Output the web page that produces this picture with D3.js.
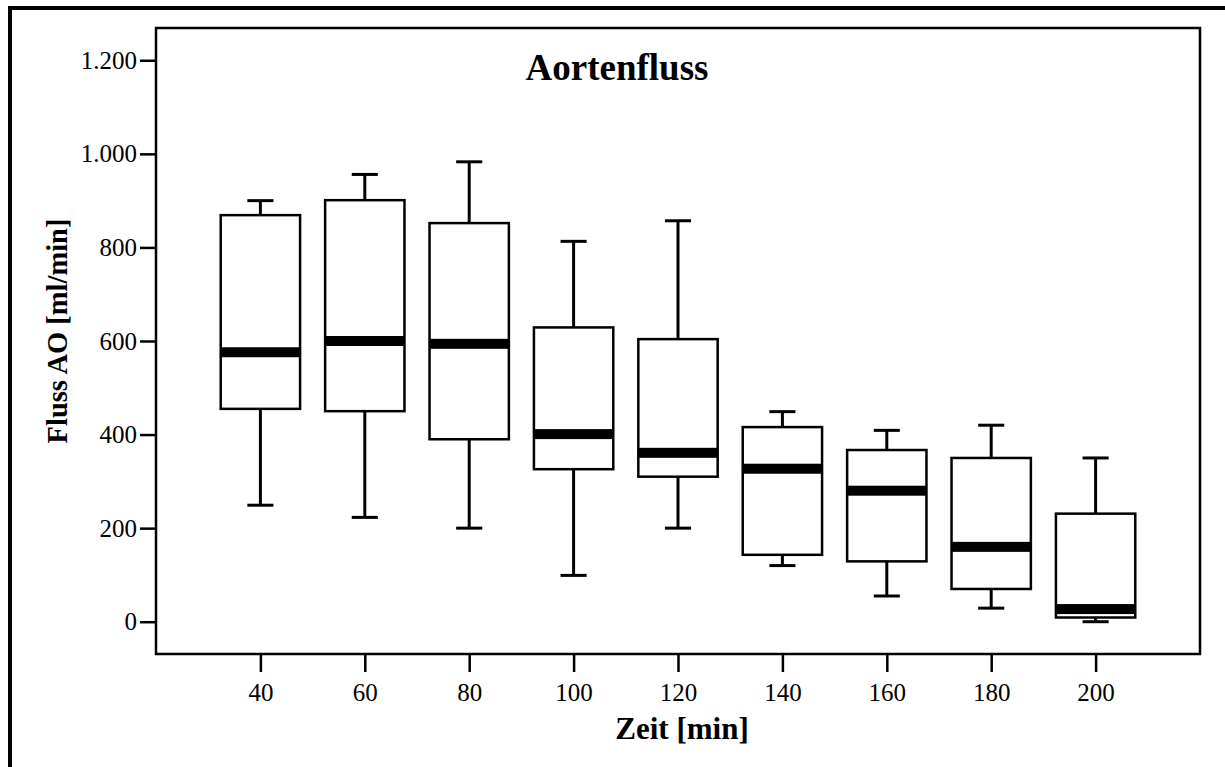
<!DOCTYPE html>
<html>
<head>
<meta charset="utf-8">
<script src="https://cdn.jsdelivr.net/npm/d3@7"></script>
<style>
  html, body { margin: 0; padding: 0; background: #fff; }
  svg { display: block; }
  text { font-family: "Liberation Serif", "Times New Roman", serif; fill: #000; }
</style>
</head>
<body>
<svg id="chart" width="1225" height="767"></svg>
<script>
// Aortenfluss per time point: box plot summaries (ml/min)
const times       = [40, 60, 80, 100, 120, 140, 160, 180, 200];
const whiskerHigh = [900, 956, 983, 813, 857, 449, 409, 420, 350];
const q3          = [869, 901, 852, 629, 604, 416, 367, 350, 231];
const medians     = [576, 600, 594, 401, 361, 327, 280, 160, 27];
const q1          = [455, 450, 390, 326, 310, 143, 129, 70, 9];
const whiskerLow  = [249, 223, 200, 99, 200, 120, 55, 29, 0];
const yTickValues = [0, 200, 400, 600, 800, 1000, 1200];

const title  = "Aortenfluss";
const xTitle = "Zeit [min]";
const yTitle = "Fluss AO [ml/min]";

const rows = times.map((t, i) => ({
  t, hi: whiskerHigh[i], q3: q3[i], med: medians[i], q1: q1[i], lo: whiskerLow[i]
}));

const svg = d3.select("#chart");
const frame = { left: 156, right: 1200, top: 28, bottom: 654 };

const x = d3.scaleLinear().domain([20, 220]).range([frame.left, frame.right]);
const y = d3.scaleLinear().domain([-69, 1269]).range([frame.bottom, frame.top]);

const step = x(60) - x(40);
const boxW = step * 0.76;
const capW = step * 0.25;
const medH = 10;

const de = d3.formatLocale({ decimal: ",", thousands: ".", grouping: [3], currency: ["", " €"] });
const fmt = de.format(",d");

// outer border (top and left visible)
svg.append("path")
  .attr("d", "M10,767 L10,8 L1225,8")
  .attr("fill", "none").attr("stroke", "#000").attr("stroke-width", 4);

// axes
const yAxis = svg.append("g")
  .attr("transform", `translate(${frame.left},0)`)
  .call(d3.axisLeft(y).tickValues(yTickValues).tickFormat(fmt).tickSize(16).tickPadding(3));
yAxis.select(".domain").remove();
yAxis.selectAll(".tick line").attr("stroke", "#000").attr("stroke-width", 2.5);
yAxis.selectAll(".tick text").attr("font-size", 25).attr("font-family", "Liberation Serif");

const xAxis = svg.append("g")
  .attr("transform", `translate(0,${frame.bottom})`)
  .call(d3.axisBottom(x).tickValues(times).tickSize(18).tickPadding(11));
xAxis.select(".domain").remove();
xAxis.selectAll(".tick line").attr("stroke", "#000").attr("stroke-width", 2.5);
xAxis.selectAll(".tick text").attr("font-size", 25).attr("font-family", "Liberation Serif");

// plot frame
svg.append("rect")
  .attr("x", frame.left).attr("y", frame.top)
  .attr("width", frame.right - frame.left).attr("height", frame.bottom - frame.top)
  .attr("fill", "none").attr("stroke", "#000").attr("stroke-width", 2.5);

// boxes
const g = svg.append("g").selectAll("g").data(rows).join("g");

g.append("line") // upper whisker
  .attr("x1", d => x(d.t)).attr("x2", d => x(d.t))
  .attr("y1", d => y(d.hi)).attr("y2", d => y(d.q3))
  .attr("stroke", "#000").attr("stroke-width", 3);
g.append("line") // lower whisker
  .attr("x1", d => x(d.t)).attr("x2", d => x(d.t))
  .attr("y1", d => y(d.q1)).attr("y2", d => y(d.lo))
  .attr("stroke", "#000").attr("stroke-width", 3);
g.append("line") // upper cap
  .attr("x1", d => x(d.t) - capW / 2).attr("x2", d => x(d.t) + capW / 2)
  .attr("y1", d => y(d.hi)).attr("y2", d => y(d.hi))
  .attr("stroke", "#000").attr("stroke-width", 3);
g.append("line") // lower cap
  .attr("x1", d => x(d.t) - capW / 2).attr("x2", d => x(d.t) + capW / 2)
  .attr("y1", d => y(d.lo)).attr("y2", d => y(d.lo))
  .attr("stroke", "#000").attr("stroke-width", 3);
g.append("rect") // box
  .attr("x", d => x(d.t) - boxW / 2).attr("width", boxW)
  .attr("y", d => y(d.q3)).attr("height", d => y(d.q1) - y(d.q3))
  .attr("fill", "#fff").attr("stroke", "#000").attr("stroke-width", 2.5);
g.append("rect") // median band
  .attr("x", d => x(d.t) - boxW / 2).attr("width", boxW)
  .attr("y", d => y(d.med) - medH / 2).attr("height", medH)
  .attr("fill", "#000");

// titles
svg.append("text")
  .attr("x", 617).attr("y", 80)
  .attr("text-anchor", "middle").attr("font-weight", "bold").attr("font-size", 37)
  .text(title);

svg.append("text")
  .attr("x", 682).attr("y", 739)
  .attr("text-anchor", "middle").attr("font-weight", "bold").attr("font-size", 31)
  .text(xTitle);

svg.append("text")
  .attr("transform", "translate(67,331) rotate(-90)")
  .attr("text-anchor", "middle").attr("font-weight", "bold").attr("font-size", 28.5)
  .text(yTitle);
</script>
</body>
</html>
